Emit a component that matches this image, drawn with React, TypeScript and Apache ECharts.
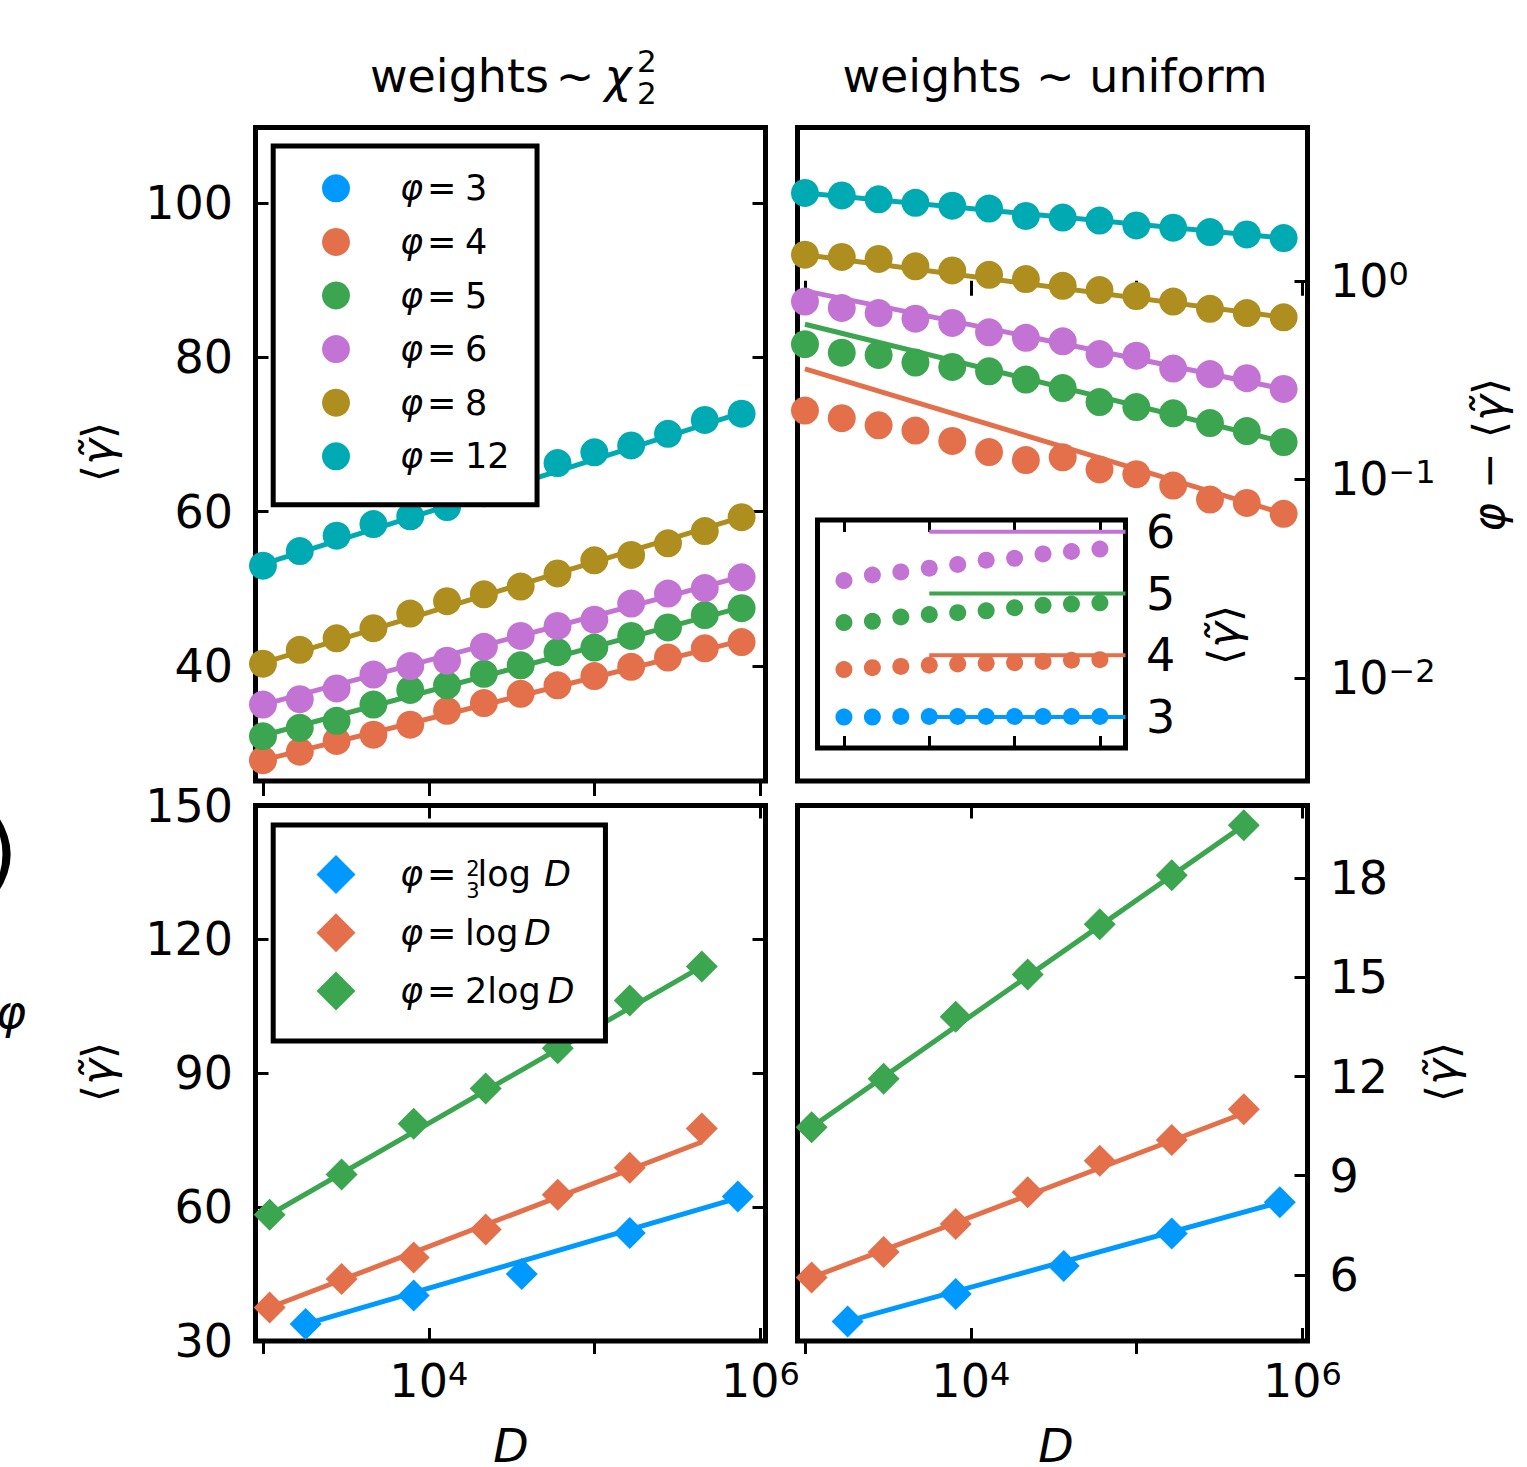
import React, { useEffect, useRef } from 'react';
import * as echarts from 'echarts';

const FONT = "'DejaVu Sans', sans-serif";
const W = 1527;
const H = 1467;

// colours
const BLUE = '#0099FF';
const ORANGE = '#E3704A';
const GREEN = '#3CA550';
const PINK = '#C373D3';
const GOLD = '#AE8E1E';
const CYAN = '#00AAB3';

// ---------- top row: D values ----------
const topD = [1000, 1667, 2780, 4634, 7727, 12880, 21480, 35810, 59700, 99540, 166000, 276700, 461300, 769100];
const fitD = [1000, 769100];

// top-left: <gamma~> vs D, weights ~ chi^2_2
const chiPhi4 = [27.8, 28.9, 30.3, 31.1, 32.4, 34.2, 35.2, 36.4, 37.5, 38.7, 39.9, 41.1, 42.3, 43.1];
const chiPhi5 = [30.9, 32.0, 32.9, 35.0, 36.9, 37.5, 39.0, 40.1, 41.8, 42.4, 43.9, 45.0, 46.6, 47.5];
const chiPhi6 = [35.0, 35.7, 37.1, 38.9, 40.0, 40.7, 42.5, 43.9, 45.2, 46.0, 48.1, 49.4, 50.1, 51.5];
const chiPhi8 = [40.3, 42.1, 43.6, 44.9, 46.8, 48.4, 49.3, 50.3, 52.0, 53.7, 54.4, 55.9, 57.5, 59.3];
const chiPhi12 = [53.0, 54.9, 56.9, 58.4, 59.4, 60.6, 62.4, 64.3, 66.3, 67.7, 68.6, 70.1, 71.9, 72.7];
const chiFit4 = [27.8, 43.3];
const chiFit5 = [31.0, 47.6];
const chiFit6 = [35.0, 51.6];
const chiFit8 = [40.4, 59.3];
const chiFit12 = [53.2, 72.8];

// top-right: phi - <gamma~> vs D, weights ~ uniform
const uniPhi4 = [0.222, 0.203, 0.187, 0.176, 0.156, 0.137, 0.125, 0.129, 0.112, 0.106, 0.093, 0.079, 0.076, 0.067];
const uniPhi5 = [0.479, 0.434, 0.423, 0.387, 0.368, 0.35, 0.318, 0.288, 0.245, 0.231, 0.215, 0.192, 0.175, 0.154];
const uniPhi6 = [0.785, 0.729, 0.687, 0.644, 0.613, 0.55, 0.516, 0.495, 0.427, 0.419, 0.361, 0.339, 0.323, 0.285];
const uniPhi8 = [1.353, 1.318, 1.287, 1.183, 1.127, 1.072, 1.02, 0.943, 0.897, 0.837, 0.785, 0.722, 0.687, 0.654];
const uniPhi12 = [2.77, 2.69, 2.57, 2.47, 2.39, 2.31, 2.12, 2.08, 2.01, 1.9, 1.85, 1.76, 1.71, 1.64];
const uniFit4 = [0.36, 0.0672];
const uniFit5 = [0.604, 0.154];
const uniFit6 = [0.889, 0.285];
const uniFit8 = [1.353, 0.654];
const uniFit12 = [2.77, 1.64];

// inset: <gamma~> vs step
const insetStep = [0, 1, 2, 3, 4, 5, 6, 7, 8, 9];
const insetPhi3 = [3.0, 3.0, 3.01, 3.01, 3.01, 3.01, 3.01, 3.01, 3.01, 3.01];
const insetPhi4 = [3.77, 3.8, 3.82, 3.84, 3.86, 3.87, 3.88, 3.9, 3.92, 3.93];
const insetPhi5 = [4.53, 4.55, 4.62, 4.66, 4.69, 4.72, 4.77, 4.81, 4.83, 4.85];
const insetPhi6 = [5.21, 5.3, 5.35, 5.41, 5.47, 5.54, 5.57, 5.64, 5.68, 5.72];
const insetLevels = [3, 4, 5, 6];
const insetLineX = [3, 9.9];

// ---------- bottom row ----------
const botD = [1097, 2981, 8103, 22030, 59870, 162800, 442400];
const botDBlue = [1808, 8103, 36320, 162800, 729400];

const chiLogBlue = [33.8, 40.2, 45.0, 54.2, 62.4];
const chiLogOrange = [37.5, 43.9, 48.7, 55.0, 62.8, 68.8, 77.6];
const chiLogGreen = [58.3, 67.3, 78.7, 86.6, 95.6, 106.3, 113.9];
const chiLogFitBlue = [33.8, 62.0];
const chiLogFitOrange = [37.5, 74.6];
const chiLogFitGreen = [58.3, 113.9];

const uniLogBlue = [4.59, 5.42, 6.27, 7.25, 8.2];
const uniLogOrange = [5.92, 6.69, 7.54, 8.5, 9.45, 10.08, 11.01];
const uniLogGreen = [10.47, 11.93, 13.81, 15.09, 16.61, 18.09, 19.6];
const uniLogFitBlue = [4.6, 8.2];
const uniLogFitOrange = [5.92, 10.89];
const uniLogFitGreen = [10.47, 19.6];

// tick values
const xMinorTicks = [3, 5];
const xMajorTicks = [4, 6];
const xAllTicks = [3, 4, 5, 6];
const tlYTicks = [40, 60, 80, 100];
const trYTicks = [-2, -1, 0];
const blYTicks = [30, 60, 90, 120, 150];
const brYTicks = [6, 9, 12, 15, 18];
const insetXTicks = [0, 3, 6, 9];
const insetYTicks = [3, 4, 5, 6];

const X_MIN = 2.955;
const X_MAX = 6.03;

const lg = (v: number) => Math.log10(v);
const pts = (ds: number[], vs: number[]) => ds.map((d, i) => [lg(d), vs[i]]);
const ptsLogY = (ds: number[], vs: number[]) => ds.map((d, i) => [lg(d), lg(vs[i])]);
const endsOf = (ds: number[]) => [ds[0], ds[ds.length - 1]];

const POW_RICH = {
  b: { fontSize: 46, lineHeight: 46, fontFamily: FONT, color: '#000' },
  s: { fontSize: 32, lineHeight: 20, fontFamily: FONT, color: '#000', verticalAlign: 'top' },
};
const powFmt = (v: number) => {
  const n = Math.round(v);
  return `{b|10}{s|${n < 0 ? '\u2212' + Math.abs(n) : n}}`;
};

const TICK = (values: number[], inside: boolean, length: number) => ({
  show: true,
  inside,
  length,
  customValues: values,
  lineStyle: { color: '#000', width: 3 },
});
const NO_LABEL = { show: false };
const NO_LINE = { show: false };
const NO_SPLIT = { show: false };

function App() {
  const ref = useRef<HTMLDivElement>(null);

  useEffect(() => {
    document.body.style.margin = '0';
    if (!ref.current) return;
    const chart = echarts.init(ref.current, null, { renderer: 'svg', width: W, height: H });

    const scatter = (name: string, data: any[], color: string, xi: number, yi: number, size: number, symbol = 'circle') => ({
      type: 'scatter', name, data, xAxisIndex: xi, yAxisIndex: yi, symbol, symbolSize: size,
      itemStyle: { color, opacity: 1 }, z: 3, silent: true,
    });
    const line = (name: string, data: any[], color: string, xi: number, yi: number, width = 5) => ({
      type: 'line', name, data, xAxisIndex: xi, yAxisIndex: yi, symbol: 'none', showSymbol: false,
      lineStyle: { color, width }, z: 2, silent: true,
    });

    const phiNames = ['φ = 3', 'φ = 4', 'φ = 5', 'φ = 6', 'φ = 8', 'φ = 12'];
    const logNames = ['φ = ⅔ log D', 'φ = log D', 'φ = 2 log D'];

    const series: any[] = [
      // top-left
      scatter(phiNames[0], [], BLUE, 0, 0, 28),
      scatter(phiNames[1], pts(topD, chiPhi4), ORANGE, 0, 0, 28),
      scatter(phiNames[2], pts(topD, chiPhi5), GREEN, 0, 0, 28),
      scatter(phiNames[3], pts(topD, chiPhi6), PINK, 0, 0, 28),
      scatter(phiNames[4], pts(topD, chiPhi8), GOLD, 0, 0, 28),
      scatter(phiNames[5], pts(topD, chiPhi12), CYAN, 0, 0, 28),
      line('fit-chi-4', pts(fitD, chiFit4), ORANGE, 0, 0),
      line('fit-chi-5', pts(fitD, chiFit5), GREEN, 0, 0),
      line('fit-chi-6', pts(fitD, chiFit6), PINK, 0, 0),
      line('fit-chi-8', pts(fitD, chiFit8), GOLD, 0, 0),
      line('fit-chi-12', pts(fitD, chiFit12), CYAN, 0, 0),
      // top-right
      scatter(phiNames[1], ptsLogY(topD, uniPhi4), ORANGE, 1, 2, 28),
      scatter(phiNames[2], ptsLogY(topD, uniPhi5), GREEN, 1, 2, 28),
      scatter(phiNames[3], ptsLogY(topD, uniPhi6), PINK, 1, 2, 28),
      scatter(phiNames[4], ptsLogY(topD, uniPhi8), GOLD, 1, 2, 28),
      scatter(phiNames[5], ptsLogY(topD, uniPhi12), CYAN, 1, 2, 28),
      line('fit-uni-4', ptsLogY(fitD, uniFit4), ORANGE, 1, 2),
      line('fit-uni-5', ptsLogY(fitD, uniFit5), GREEN, 1, 2),
      line('fit-uni-6', ptsLogY(fitD, uniFit6), PINK, 1, 2),
      line('fit-uni-8', ptsLogY(fitD, uniFit8), GOLD, 1, 2),
      line('fit-uni-12', ptsLogY(fitD, uniFit12), CYAN, 1, 2),
      // inset
      scatter('inset-3', insetStep.map((s, i) => [s, insetPhi3[i]]), BLUE, 8, 6, 17),
      scatter('inset-4', insetStep.map((s, i) => [s, insetPhi4[i]]), ORANGE, 8, 6, 17),
      scatter('inset-5', insetStep.map((s, i) => [s, insetPhi5[i]]), GREEN, 8, 6, 17),
      scatter('inset-6', insetStep.map((s, i) => [s, insetPhi6[i]]), PINK, 8, 6, 17),
      ...insetLevels.map((lv, k) =>
        line('inset-level-' + lv, insetLineX.map((x) => [x, lv]), [BLUE, ORANGE, GREEN, PINK][k], 8, 6, 4)
      ),
      // bottom-left
      scatter(logNames[0], pts(botDBlue, chiLogBlue), BLUE, 2, 3, 32, 'diamond'),
      scatter(logNames[1], pts(botD, chiLogOrange), ORANGE, 2, 3, 32, 'diamond'),
      scatter(logNames[2], pts(botD, chiLogGreen), GREEN, 2, 3, 32, 'diamond'),
      line('fit-chilog-b', pts(endsOf(botDBlue), chiLogFitBlue), BLUE, 2, 3),
      line('fit-chilog-o', pts(endsOf(botD), chiLogFitOrange), ORANGE, 2, 3),
      line('fit-chilog-g', pts(endsOf(botD), chiLogFitGreen), GREEN, 2, 3),
      // bottom-right
      scatter(logNames[0], pts(botDBlue, uniLogBlue), BLUE, 5, 5, 32, 'diamond'),
      scatter(logNames[1], pts(botD, uniLogOrange), ORANGE, 5, 5, 32, 'diamond'),
      scatter(logNames[2], pts(botD, uniLogGreen), GREEN, 5, 5, 32, 'diamond'),
      line('fit-unilog-b', pts(endsOf(botDBlue), uniLogFitBlue), BLUE, 5, 5),
      line('fit-unilog-o', pts(endsOf(botD), uniLogFitOrange), ORANGE, 5, 5),
      line('fit-unilog-g', pts(endsOf(botD), uniLogFitGreen), GREEN, 5, 5),
    ];

    const gridBase = { show: true, borderColor: '#000', borderWidth: 5, containLabel: false, outerBoundsMode: 'none' };
    const grid = [
      { ...gridBase, left: 255.5, top: 127.5, width: 510, height: 653.5 },
      { ...gridBase, left: 797.5, top: 127.5, width: 510, height: 653.5 },
      { ...gridBase, left: 255.5, top: 805.5, width: 510, height: 535.5 },
      { ...gridBase, left: 797.5, top: 805.5, width: 510, height: 535.5 },
      { ...gridBase, left: 817.5, top: 520, width: 308, height: 228, backgroundColor: '#fff' },
    ];

    const xLabel = {
      show: true, customValues: xMajorTicks, margin: 16.5, formatter: powFmt, rich: POW_RICH,
      color: '#000', fontFamily: FONT, fontSize: 46,
    };
    const xMain = (gridIndex: number, position: string, tick: any, label: any) => ({
      type: 'value', gridIndex, min: X_MIN, max: X_MAX, position,
      axisLine: NO_LINE, splitLine: NO_SPLIT, axisTick: tick, axisLabel: label,
    });
    const xAxis = [
      xMain(0, 'bottom', TICK(xAllTicks, false, 15), NO_LABEL), // 0
      xMain(1, 'bottom', TICK(xAllTicks, false, 15), NO_LABEL), // 1
      xMain(2, 'bottom', TICK(xMajorTicks, true, 13), xLabel), // 2
      xMain(2, 'bottom', TICK(xMinorTicks, false, 13), NO_LABEL), // 3
      xMain(2, 'top', TICK(xMajorTicks, true, 13), NO_LABEL), // 4
      xMain(3, 'bottom', TICK(xMajorTicks, true, 13), xLabel), // 5
      xMain(3, 'bottom', TICK(xMinorTicks, false, 13), NO_LABEL), // 6
      xMain(3, 'top', TICK(xMajorTicks, true, 13), NO_LABEL), // 7
      { type: 'value', gridIndex: 4, min: -0.93, max: 9.9, position: 'bottom', axisLine: NO_LINE, splitLine: NO_SPLIT,
        axisTick: TICK(insetXTicks, true, 12), axisLabel: NO_LABEL }, // 8
      { type: 'value', gridIndex: 4, min: -0.93, max: 9.9, position: 'top', axisLine: NO_LINE, splitLine: NO_SPLIT,
        axisTick: TICK(insetXTicks, true, 12), axisLabel: NO_LABEL }, // 9
    ];

    const numLabel = (values: number[], margin: number) => ({
      show: true, customValues: values, margin, color: '#000', fontFamily: FONT, fontSize: 46,
    });
    const yAxis = [
      { type: 'value', gridIndex: 0, min: 25.1, max: 109.8, position: 'left', axisLine: NO_LINE, splitLine: NO_SPLIT,
        axisTick: TICK(tlYTicks, true, 13), axisLabel: numLabel(tlYTicks, 22.5) }, // 0
      { type: 'value', gridIndex: 0, min: 25.1, max: 109.8, position: 'right', axisLine: NO_LINE, splitLine: NO_SPLIT,
        axisTick: TICK(tlYTicks, true, 13), axisLabel: NO_LABEL }, // 1
      { type: 'value', gridIndex: 1, min: -2.52, max: 0.772, position: 'right', axisLine: NO_LINE, splitLine: NO_SPLIT,
        axisTick: TICK(trYTicks, true, 13),
        axisLabel: { show: true, customValues: trYTicks, margin: 22.5, formatter: powFmt, rich: POW_RICH,
          color: '#000', fontFamily: FONT, fontSize: 46 } }, // 2
      { type: 'value', gridIndex: 2, min: 30, max: 150, position: 'left', axisLine: NO_LINE, splitLine: NO_SPLIT,
        axisTick: TICK(blYTicks, true, 13), axisLabel: numLabel(blYTicks, 22.5) }, // 3
      { type: 'value', gridIndex: 2, min: 30, max: 150, position: 'right', axisLine: NO_LINE, splitLine: NO_SPLIT,
        axisTick: TICK(blYTicks, true, 13), axisLabel: NO_LABEL }, // 4
      { type: 'value', gridIndex: 3, min: 4, max: 20.2, position: 'right', axisLine: NO_LINE, splitLine: NO_SPLIT,
        axisTick: TICK(brYTicks, true, 13), axisLabel: numLabel(brYTicks, 22) }, // 5
      { type: 'value', gridIndex: 4, min: 2.5, max: 6.19, position: 'right', axisLine: NO_LINE, splitLine: NO_SPLIT,
        axisTick: { show: false }, axisLabel: numLabel(insetYTicks, 20.5) }, // 6
    ];

    const LEG_FS = 35;
    const tok = (extra: any) => ({ fontSize: LEG_FS, fontFamily: FONT, color: '#000', ...extra });
    const legendTopRich = {
      sp: tok({ width: 45 }),
      i: tok({ width: 27, fontStyle: 'italic' }),
      eq: tok({ width: 34 }),
      g: tok({ width: 4 }),
      n: tok({ width: 46 }),
    };
    const legendBotRich = {
      sp: tok({ width: 39.5 }),
      i: tok({ width: 27, fontStyle: 'italic' }),
      eq: tok({ width: 34 }),
      g: tok({ width: 4 }),
      fr: tok({ width: 12.5 }),
      lg: tok({ width: 66.5 }),
      lg2: tok({ width: 59 }),
      tw: tok({ width: 82.5 }),
      d: tok({ width: 33, fontStyle: 'italic' }),
    };
    const legendText: Record<string, string> = {
      'φ = 3': '{sp| }{i|φ}{eq|=}{g| }{n|3}',
      'φ = 4': '{sp| }{i|φ}{eq|=}{g| }{n|4}',
      'φ = 5': '{sp| }{i|φ}{eq|=}{g| }{n|5}',
      'φ = 6': '{sp| }{i|φ}{eq|=}{g| }{n|6}',
      'φ = 8': '{sp| }{i|φ}{eq|=}{g| }{n|8}',
      'φ = 12': '{sp| }{i|φ}{eq|=}{g| }{n|12}',
      'φ = ⅔ log D': '{sp| }{i|φ}{eq|=}{g| }{fr| }{lg|log}{d|D}',
      'φ = log D': '{sp| }{i|φ}{eq|=}{g| }{lg2|log}{d|D}',
      'φ = 2 log D': '{sp| }{i|φ}{eq|=}{g| }{tw|2log}{d|D}',
    };

    const legend = [
      {
        orient: 'vertical', align: 'left', left: 273.2, top: 146, padding: [24.8, 27.5, 31, 48.8],
        itemWidth: 28, itemHeight: 28, itemGap: 18.6, icon: 'circle', selectedMode: false,
        borderColor: '#000', borderWidth: 5, borderRadius: 0, backgroundColor: '#fff',
        data: phiNames, formatter: (n: string) => legendText[n],
        textStyle: { fontSize: LEG_FS, fontFamily: FONT, color: '#000', rich: legendTopRich },
      },
      {
        orient: 'vertical', align: 'left', left: 273.2, top: 825, padding: [29.9, 31, 30.5, 43.3],
        itemWidth: 39, itemHeight: 39, itemGap: 19.3, icon: 'diamond', selectedMode: false,
        borderColor: '#000', borderWidth: 5, borderRadius: 0, backgroundColor: '#fff',
        data: logNames, formatter: (n: string) => legendText[n],
        textStyle: { fontSize: LEG_FS, fontFamily: FONT, color: '#000', rich: legendBotRich },
      },
    ];

    const txt = (x: number, y: number, text: string, extra: any = {}, rotation = 0) => ({
      type: 'text', x, y, rotation, z: 100, silent: true,
      style: {
        text, fontFamily: FONT, fontSize: 46, fill: '#000', align: 'center', verticalAlign: 'middle',
        rich: {
          i: { fontStyle: 'italic', fontFamily: FONT, fontSize: extra.fontSize || 46, fill: '#000' },
        },
        ...extra,
      },
    });
    const R90 = Math.PI / 2;
    const gammaLabel = '⟨{i|γ\u0303}⟩';

    const graphic = [
      // titles
      txt(549, 76, 'weights', { align: 'right' }),
      txt(575, 76, '\u223C'),
      txt(618, 76, '{i|χ}'),
      txt(637, 77, '2\n2', { fontSize: 31, lineHeight: 32, align: 'left' }),
      txt(1055, 76, 'weights \u223C uniform'),
      // y axis names
      txt(97, 452, gammaLabel, { fontSize: 44 }, R90),
      txt(97, 1072, gammaLabel, { fontSize: 44 }, R90),
      txt(1441, 1072, gammaLabel, { fontSize: 44 }, R90),
      txt(1223, 635, gammaLabel, { fontSize: 44 }, R90),
      txt(1488, 455, '{i|φ} \u2212 ' + gammaLabel, { fontSize: 44 }, R90),
      // x axis names
      txt(511, 1446, '{i|D}'),
      txt(1056, 1446, '{i|D}'),
      // fraction 2/3 in the lower legend
      txt(473, 880, '2\n3', { fontSize: 21, lineHeight: 22 }),
      // fragments of a neighbouring label cut by the left edge
      txt(18, 851, ')', { fontSize: 86, align: 'right' }),
      txt(26, 1012, '{i|φ}', { fontSize: 46, align: 'right' }),
    ];

    chart.setOption({
      animation: false,
      backgroundColor: '#fff',
      grid,
      xAxis,
      yAxis,
      legend,
      series,
      graphic,
    });

    return () => chart.dispose();
  }, []);

  return <div ref={ref} style={{ width: W, height: H }} />;
}

export default App;
